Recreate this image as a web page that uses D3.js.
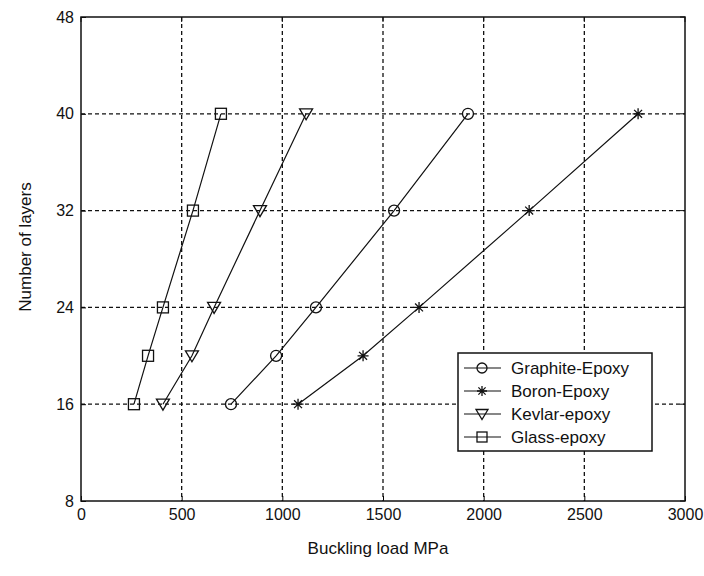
<!DOCTYPE html>
<html lang="en">
<head>
<meta charset="utf-8">
<title>Buckling load vs number of layers</title>
<script src="https://cdn.jsdelivr.net/npm/d3@7"></script>
<style>
  body { margin: 0; background: #fff; }
  svg text { font-family: "Liberation Sans", Arial, sans-serif; fill: #111; }
  .grid line { stroke: #111; stroke-width: 1.3; stroke-dasharray: 4,3; }
  .series { fill: none; stroke: #111; stroke-width: 1.2; }
  .mark { fill: none; stroke: #111; stroke-width: 1.3; }
</style>
</head>
<body>
<script>
// data
var layers = [16, 20, 24, 32, 40];
var graphite = [745, 969, 1167, 1555, 1922];
var boron = [1078, 1401, 1679, 2226, 2767];
var kevlar = [407, 551, 661, 889, 1118];
var glass = [263, 333, 407, 556, 695];
var seriesNames = ["Graphite-Epoxy", "Boron-Epoxy", "Kevlar-epoxy", "Glass-epoxy"];
var markerTypes = ["circle", "star", "triangle", "square"];
var xTicks = [0, 500, 1000, 1500, 2000, 2500, 3000];
var yTicks = [8, 16, 24, 32, 40, 48];

var w = 704, h = 576;
var padL = 81, padR = 685, padT = 17, padB = 501;

var svg = d3.select("body").append("svg")
    .attr("width", w)
    .attr("height", h);

var xScale = d3.scaleLinear().domain([0, 3000]).range([padL, padR]);
var yScale = d3.scaleLinear().domain([8, 48]).range([padB, padT]);

// grid
var grid = svg.append("g").attr("class", "grid");
grid.selectAll(".gx")
    .data(xTicks.slice(1, -1))
    .enter().append("line")
    .attr("x1", function(d) { return xScale(d); })
    .attr("x2", function(d) { return xScale(d); })
    .attr("y1", padT).attr("y2", padB);
grid.selectAll(".gy")
    .data(yTicks.slice(1, -1))
    .enter().append("line")
    .attr("y1", function(d) { return yScale(d); })
    .attr("y2", function(d) { return yScale(d); })
    .attr("x1", padL).attr("x2", padR);

// axes
var xAxis = d3.axisBottom(xScale).tickValues(xTicks).tickSize(-5).tickPadding(8).tickFormat(d3.format("d"));
var yAxis = d3.axisLeft(yScale).tickValues(yTicks).tickSize(-5).tickPadding(7);

svg.append("g")
    .attr("transform", "translate(0," + padB + ")")
    .call(xAxis)
    .call(function(g) { g.select(".domain").remove(); })
    .selectAll("text").style("font-size", "16px");

svg.append("g")
    .attr("transform", "translate(" + padL + ",0)")
    .call(yAxis)
    .call(function(g) { g.select(".domain").remove(); })
    .selectAll("text").style("font-size", "16px");

// top/right ticks
svg.selectAll(".tt").data(xTicks).enter().append("line")
    .attr("x1", function(d) { return xScale(d); }).attr("x2", function(d) { return xScale(d); })
    .attr("y1", padT).attr("y2", padT + 5).attr("stroke", "#111");
svg.selectAll(".rt").data(yTicks).enter().append("line")
    .attr("y1", function(d) { return yScale(d); }).attr("y2", function(d) { return yScale(d); })
    .attr("x1", padR).attr("x2", padR - 5).attr("stroke", "#111");

svg.append("rect")
    .attr("x", padL).attr("y", padT)
    .attr("width", padR - padL).attr("height", padB - padT)
    .attr("fill", "none").attr("stroke", "#111").attr("stroke-width", 1.5);

// markers
function drawMarker(g, type, cx, cy, s) {
  s = s || 5.5;
  if (type === "circle") {
    g.append("circle").attr("class", "mark").attr("cx", cx).attr("cy", cy).attr("r", s);
  } else if (type === "square") {
    g.append("rect").attr("class", "mark").attr("x", cx - s).attr("y", cy - s).attr("width", 2 * s).attr("height", 2 * s);
  } else if (type === "triangle") {
    g.append("path").attr("class", "mark")
      .attr("d", "M" + (cx - s - 1) + "," + (cy - s + 0.5) + "L" + (cx + s + 1) + "," + (cy - s + 0.5) + "L" + cx + "," + (cy + s + 0.5) + "Z");
  } else {
    var k = s * 0.72;
    g.append("path").attr("class", "mark")
      .attr("d", "M" + cx + "," + (cy - s) + "V" + (cy + s) +
                 "M" + (cx - s) + "," + cy + "H" + (cx + s) +
                 "M" + (cx - k) + "," + (cy - k) + "L" + (cx + k) + "," + (cy + k) +
                 "M" + (cx - k) + "," + (cy + k) + "L" + (cx + k) + "," + (cy - k));
  }
}

var allSeries = [graphite, boron, kevlar, glass];
var line = d3.line()
    .x(function(d) { return xScale(d[0]); })
    .y(function(d) { return yScale(d[1]); });

allSeries.forEach(function(vals, i) {
  var pts = vals.map(function(v, j) { return [v, layers[j]]; });
  svg.append("path").attr("class", "series").attr("d", line(pts));
  var g = svg.append("g");
  pts.forEach(function(p) { drawMarker(g, markerTypes[i], xScale(p[0]), yScale(p[1])); });
});

// legend
var lg = svg.append("g");
lg.append("rect")
    .attr("x", 458).attr("y", 353).attr("width", 194).attr("height", 98)
    .attr("fill", "#fff").attr("stroke", "#111").attr("stroke-width", 1.5);
seriesNames.forEach(function(name, i) {
  var yy = 368 + i * 23;
  lg.append("line").attr("x1", 464).attr("x2", 501).attr("y1", yy).attr("y2", yy)
    .attr("stroke", "#111").attr("stroke-width", 1.2);
  drawMarker(lg, markerTypes[i], 482, yy, 5);
  lg.append("text").attr("x", 511).attr("y", yy + 6)
    .style("font-size", "17px").text(name);
});

// axis labels
svg.append("text")
    .attr("x", 378).attr("y", 554)
    .attr("text-anchor", "middle")
    .style("font-size", "17px")
    .text("Buckling load MPa");

svg.append("text")
    .attr("transform", "translate(31," + 247 + ") rotate(-90)")
    .attr("text-anchor", "middle")
    .style("font-size", "17px")
    .text("Number of layers");
</script>
</body>
</html>
